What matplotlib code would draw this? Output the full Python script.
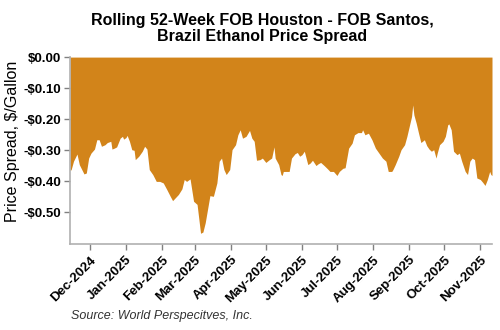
import matplotlib
matplotlib.use('Agg')
import matplotlib.pyplot as plt
import matplotlib.dates as mdates
import matplotlib.ticker as mticker
import pandas as pd

plt.rcParams['font.family'] = ['Liberation Sans', 'DejaVu Sans']

# FOB Houston minus FOB Santos spread, $/gallon
dates = [
    '2024-11-14', '2024-11-15', '2024-11-17', '2024-11-20', '2024-11-22', '2024-11-26',
    '2024-11-28', '2024-11-30', '2024-12-02', '2024-12-05', '2024-12-07', '2024-12-09',
    '2024-12-11', '2024-12-14', '2024-12-16', '2024-12-19', '2024-12-20', '2024-12-22',
    '2024-12-24', '2024-12-27', '2024-12-29', '2024-12-30', '2025-01-01', '2025-01-02',
    '2025-01-04', '2025-01-06', '2025-01-08', '2025-01-09', '2025-01-12', '2025-01-15',
    '2025-01-17', '2025-01-19', '2025-01-21', '2025-01-24', '2025-01-27', '2025-01-30',
    '2025-02-02', '2025-02-05', '2025-02-08', '2025-02-10', '2025-02-13', '2025-02-15',
    '2025-02-18', '2025-02-20', '2025-02-22', '2025-02-25', '2025-02-28', '2025-03-03',
    '2025-03-06', '2025-03-08', '2025-03-10', '2025-03-14', '2025-03-17', '2025-03-20',
    '2025-03-22', '2025-03-24', '2025-03-26', '2025-03-28', '2025-03-31', '2025-04-02',
    '2025-04-05', '2025-04-07', '2025-04-09', '2025-04-11', '2025-04-14', '2025-04-17',
    '2025-04-19', '2025-04-21', '2025-04-23', '2025-04-26', '2025-04-28', '2025-05-01',
    '2025-05-04', '2025-05-06', '2025-05-08', '2025-05-09', '2025-05-12', '2025-05-14',
    '2025-05-15', '2025-05-16', '2025-05-21', '2025-05-23', '2025-05-26', '2025-05-28',
    '2025-05-30', '2025-06-01', '2025-06-03', '2025-06-06', '2025-06-08', '2025-06-10',
    '2025-06-13', '2025-06-15', '2025-06-17', '2025-06-20', '2025-06-23', '2025-06-25',
    '2025-06-28', '2025-07-01', '2025-07-03', '2025-07-06', '2025-07-08', '2025-07-11',
    '2025-07-14', '2025-07-16', '2025-07-19', '2025-07-22', '2025-07-23', '2025-07-25',
    '2025-07-28', '2025-07-31', '2025-08-03', '2025-08-06', '2025-08-09', '2025-08-12',
    '2025-08-14', '2025-08-17', '2025-08-18', '2025-08-20', '2025-08-23', '2025-08-25',
    '2025-08-28', '2025-08-30', '2025-09-01', '2025-09-03', '2025-09-04', '2025-09-05',
    '2025-09-07', '2025-09-09', '2025-09-11', '2025-09-14', '2025-09-16', '2025-09-18',
    '2025-09-20', '2025-09-22', '2025-09-24', '2025-09-25', '2025-09-27', '2025-09-30',
    '2025-10-02', '2025-10-04', '2025-10-05', '2025-10-07', '2025-10-09', '2025-10-12',
    '2025-10-14', '2025-10-16', '2025-10-19', '2025-10-21', '2025-10-23', '2025-10-25',
    '2025-10-27', '2025-10-29', '2025-11-01', '2025-11-03', '2025-11-05', '2025-11-07',
    '2025-11-09', '2025-11-10', '2025-11-11',
]
spread = [
    -0.365, -0.362, -0.335, -0.312, -0.346, -0.376,
    -0.373, -0.325, -0.309, -0.296, -0.266, -0.266,
    -0.287, -0.282, -0.275, -0.271, -0.296, -0.293,
    -0.289, -0.261, -0.255, -0.264, -0.259, -0.252,
    -0.271, -0.298, -0.300, -0.330, -0.319, -0.303,
    -0.287, -0.296, -0.362, -0.378, -0.400, -0.400,
    -0.405, -0.426, -0.448, -0.462, -0.450, -0.442,
    -0.424, -0.394, -0.400, -0.392, -0.464, -0.474,
    -0.567, -0.563, -0.533, -0.446, -0.448, -0.405,
    -0.335, -0.325, -0.362, -0.378, -0.362, -0.298,
    -0.282, -0.250, -0.234, -0.261, -0.255, -0.236,
    -0.261, -0.271, -0.332, -0.330, -0.325, -0.339,
    -0.330, -0.325, -0.289, -0.325, -0.346, -0.378,
    -0.381, -0.368, -0.368, -0.325, -0.311, -0.307,
    -0.319, -0.314, -0.303, -0.346, -0.341, -0.332,
    -0.349, -0.343, -0.339, -0.349, -0.360, -0.368,
    -0.368, -0.381, -0.368, -0.358, -0.356, -0.293,
    -0.277, -0.250, -0.243, -0.243, -0.234, -0.250,
    -0.245, -0.266, -0.293, -0.309, -0.325, -0.335,
    -0.368, -0.368, -0.362, -0.346, -0.319, -0.298,
    -0.282, -0.255, -0.223, -0.191, -0.154, -0.186,
    -0.213, -0.245, -0.275, -0.266, -0.285, -0.296,
    -0.303, -0.298, -0.325, -0.309, -0.282, -0.271,
    -0.255, -0.218, -0.215, -0.234, -0.303, -0.314,
    -0.309, -0.335, -0.368, -0.378, -0.335, -0.325,
    -0.330, -0.389, -0.394, -0.403, -0.413, -0.394,
    -0.368, -0.378, -0.381,
]
yticks = [0.0, -0.1, -0.2, -0.3, -0.4, -0.5]

dt = pd.to_datetime(dates)

fig = plt.figure(figsize=(5, 3.3), dpi=100)
ax = fig.add_axes([0.14, 0.262, 0.844, 0.565])

ax.fill_between(dt, spread, 0, color='#D2841A', linewidth=0)

ax.set_xlim(dt[0], dt[-1])
ax.set_ylim(-0.6, 0)
ax.set_yticks(yticks)
ax.yaxis.set_major_formatter(mticker.FuncFormatter(
    lambda v, p: ('-$%.2f' % abs(v)) if v < -0.001 else '$%.2f' % abs(v)))
ax.xaxis.set_major_locator(mdates.MonthLocator())
ax.xaxis.set_major_formatter(mdates.DateFormatter('%b-%Y'))

for s in ['top', 'right']:
    ax.spines[s].set_visible(False)
for s in ['left', 'bottom']:
    ax.spines[s].set_color('#B0B0B0')
    ax.spines[s].set_linewidth(1.2)

ax.tick_params(axis='both', colors='#808080', length=4, width=1)
ax.tick_params(axis='y', labelcolor='black', labelsize=9.5, pad=2.5)
ax.tick_params(axis='x', labelcolor='black', labelsize=9.5)
for lab in ax.get_yticklabels():
    lab.set_fontweight('bold')
for lab in ax.get_xticklabels():
    lab.set_rotation(45)
    lab.set_ha('right')
    lab.set_rotation_mode('anchor')
    lab.set_fontweight('bold')

ax.set_ylabel('Price Spread, $/Gallon', fontsize=11.5)
ax.yaxis.set_label_coords(-0.118, 0.55)

fig.text(0.525, 0.96, 'Rolling 52-Week FOB Houston - FOB Santos,\nBrazil Ethanol Price Spread',
         ha='center', va='top', fontsize=11.5, fontweight='bold', linespacing=1.05)
fig.text(0.142, 0.042, 'Source: World Perspecitves, Inc.', fontsize=9,
         style='italic', color='#333333', ha='left', va='center')

fig.savefig('out.png', dpi=100)
